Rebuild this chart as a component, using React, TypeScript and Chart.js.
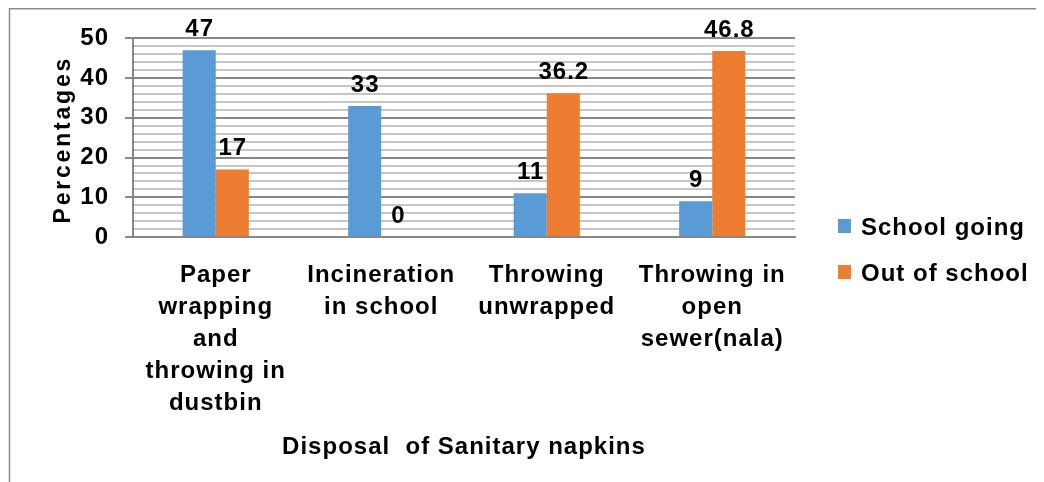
import React, { useEffect, useRef } from 'react';
import { Chart, registerables } from 'chart.js';

Chart.register(...registerables);

const categories: string[][] = [
  ['Paper', 'wrapping', 'and', 'throwing in', 'dustbin'],
  ['Incineration', 'in school'],
  ['Throwing', 'unwrapped'],
  ['Throwing in', 'open', 'sewer(nala)'],
];
const seriesNames = ['School going', 'Out of school'];
const schoolGoing = [47, 33, 11, 9];
const outOfSchool = [17, 0, 36.2, 46.8];
const yMin = 0;
const yMax = 50;
const yMinorStep = 2;
const yLabelStep = 10;
const xTitle = 'Disposal  of Sanitary napkins';
const yTitle = 'Percentages';

const FONT = '"Liberation Sans", Arial, Helvetica, sans-serif';
const SPACING = '1px';
const BLUE = '#5B9BD5';
const ORANGE = '#ED7D31';
const MAJOR = '#878787';
const MINOR = '#C6C6C6';

const spacingPlugin = {
  id: 'letterSpacing',
  beforeUpdate(chart: any) {
    chart.ctx.letterSpacing = SPACING;
  },
  beforeDraw(chart: any) {
    chart.ctx.letterSpacing = SPACING;
  },
};

const framePlugin = {
  id: 'frame',
  beforeDraw(chart: any) {
    const ctx = chart.ctx;
    ctx.save();
    ctx.strokeStyle = '#8C8C8C';
    ctx.lineWidth = 1.5;
    ctx.beginPath();
    ctx.moveTo(1.5, chart.height + 10);
    ctx.lineTo(1.5, 0.75);
    ctx.lineTo(chart.width + 10, 0.75);
    ctx.stroke();
    ctx.restore();
  },
};

const valueLabelPlugin = {
  id: 'valueLabels',
  afterDatasetsDraw(chart: any) {
    const ctx = chart.ctx;
    ctx.save();
    ctx.letterSpacing = SPACING;
    ctx.font = `bold 24px ${FONT}`;
    ctx.fillStyle = '#000';
    ctx.textAlign = 'center';
    ctx.textBaseline = 'alphabetic';
    chart.data.datasets.forEach((ds: any, di: number) => {
      const meta = chart.getDatasetMeta(di);
      meta.data.forEach((el: any, i: number) => {
        ctx.fillText(String(ds.data[i]), el.x + 0.5, el.y - 14);
      });
    });
    ctx.restore();
  },
};

const yTitlePlugin = {
  id: 'yTitle',
  afterDraw(chart: any) {
    const ctx = chart.ctx;
    const { top, bottom } = chart.chartArea;
    ctx.save();
    ctx.letterSpacing = '2.8px';
    ctx.font = `bold 23px ${FONT}`;
    ctx.fillStyle = '#000';
    ctx.textAlign = 'center';
    ctx.textBaseline = 'middle';
    ctx.translate(56, (top + bottom) / 2 + 2);
    ctx.rotate(-Math.PI / 2);
    ctx.fillText(yTitle, 0, 0);
    ctx.restore();
  },
};

const sideLegendPlugin = {
  id: 'sideLegend',
  afterDraw(chart: any) {
    const ctx = chart.ctx;
    const { right } = chart.chartArea;
    ctx.save();
    ctx.letterSpacing = SPACING;
    ctx.font = `bold 24px ${FONT}`;
    ctx.textAlign = 'left';
    ctx.textBaseline = 'middle';
    chart.data.datasets.forEach((ds: any, i: number) => {
      const y = 218 + i * 46;
      ctx.fillStyle = ds.backgroundColor;
      ctx.fillRect(right + 43, y - 7, 13, 14);
      ctx.fillStyle = '#000';
      ctx.fillText(ds.label, right + 66, y + 2);
    });
    ctx.restore();
  },
};

export default function App() {
  const canvasRef = useRef<HTMLCanvasElement | null>(null);

  useEffect(() => {
    document.documentElement.style.overflow = 'hidden';
    document.body.style.overflow = 'hidden';
    const canvas = canvasRef.current;
    if (!canvas) return;
    Chart.defaults.font.family = FONT;
    Chart.defaults.color = '#000';

    const chart = new Chart(canvas, {
      type: 'bar',
      data: {
        labels: categories,
        datasets: [
          {
            label: seriesNames[0],
            data: schoolGoing,
            backgroundColor: BLUE,
            borderWidth: 0,
            barPercentage: 1,
            categoryPercentage: 0.4,
          },
          {
            label: seriesNames[1],
            data: outOfSchool,
            backgroundColor: ORANGE,
            borderWidth: 0,
            barPercentage: 1,
            categoryPercentage: 0.4,
          },
        ],
      },
      options: {
        responsive: false,
        maintainAspectRatio: false,
        animation: false,
        layout: { padding: { left: 0, top: 30, right: 249, bottom: 0 } },
        plugins: {
          legend: { display: false },
          tooltip: { enabled: false },
          title: { display: false },
        },
        scales: {
          x: {
            grid: { display: true, color: 'transparent', drawTicks: false },
            border: { display: true, color: MAJOR, width: 2 },
            ticks: {
              color: '#000',
              font: { size: 24, weight: 'bold', lineHeight: 1.333 },
              padding: 22,
              maxRotation: 0,
              minRotation: 0,
              autoSkip: false,
            },
            title: {
              display: true,
              text: xTitle,
              color: '#000',
              font: { size: 24, weight: 'bold' },
              padding: { top: 4, bottom: 20 },
            },
            afterFit(scale: any) {
              scale.height = 245;
            },
          },
          y: {
            min: yMin,
            max: yMax,
            grid: {
              color: (c: any) => (c.tick && c.tick.value % yLabelStep === 0 ? MAJOR : MINOR),
              tickColor: (c: any) => (c.tick && c.tick.value % yLabelStep === 0 ? MAJOR : 'transparent'),
              lineWidth: 2,
              tickLength: 8,
              drawTicks: true,
            },
            border: { display: true, color: MAJOR, width: 2 },
            ticks: {
              stepSize: yMinorStep,
              autoSkip: false,
              color: '#000',
              font: { size: 24, weight: 'bold' },
              padding: 16,
              callback: (v: any) => (Number(v) % yLabelStep === 0 ? String(v) : ''),
            },
            title: { display: false },
            afterFit(scale: any) {
              scale.width = 125;
            },
          },
        },
      } as any,
      plugins: [spacingPlugin, framePlugin, valueLabelPlugin, yTitlePlugin, sideLegendPlugin],
    });

    return () => {
      chart.destroy();
    };
  }, []);

  return (
    <div style={{ width: 1036, height: 474 }}>
      <canvas ref={canvasRef} width={1036} height={474} style={{ display: 'block', width: 1036, height: 474 }} />
    </div>
  );
}
